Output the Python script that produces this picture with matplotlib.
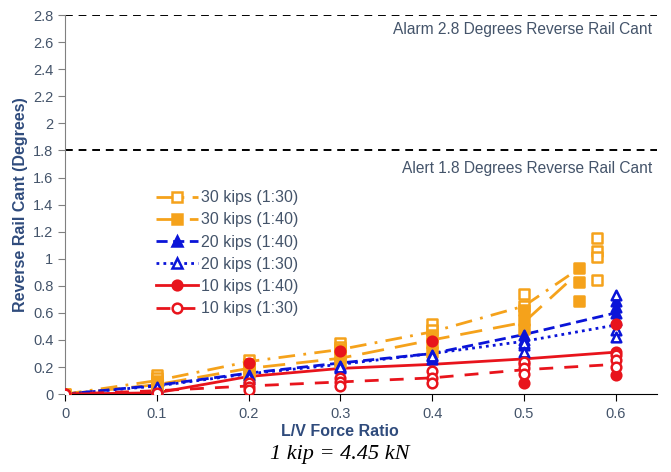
import matplotlib.pyplot as plt

# trend lines (one per series)
x_line = [0, 0.1, 0.2, 0.3, 0.4, 0.5, 0.6]
x_line_30_130 = [0, 0.1, 0.2, 0.3, 0.4, 0.5, 0.565]
x_line_30_140 = [0, 0.1, 0.2, 0.3, 0.4, 0.5, 0.555]
y_line_30_130 = [0, 0.10, 0.24, 0.33, 0.46, 0.65, 0.95]
y_line_30_140 = [0, 0.07, 0.19, 0.265, 0.40, 0.53, 0.87]
y_line_20_140 = [0, 0.065, 0.155, 0.23, 0.30, 0.44, 0.60]
y_line_20_130 = [0, 0.06, 0.15, 0.22, 0.30, 0.39, 0.51]
y_line_10_140 = [0, 0.01, 0.13, 0.19, 0.22, 0.26, 0.31]
y_line_10_130 = [0, 0.025, 0.06, 0.09, 0.12, 0.18, 0.22]

# measured points
x_30_130 = [0, 0.1, 0.1, 0.2, 0.2, 0.3, 0.3, 0.4, 0.4, 0.5, 0.5, 0.58, 0.58, 0.58, 0.58]
y_30_130 = [0, 0.14, 0.12, 0.25, 0.22, 0.38, 0.35, 0.52, 0.47, 0.74, 0.65, 1.15, 1.06, 1.01, 0.84]
x_30_140 = [0, 0.1, 0.1, 0.1, 0.2, 0.2, 0.2, 0.3, 0.3, 0.3, 0.4, 0.4, 0.4, 0.5, 0.5, 0.5, 0.56, 0.56, 0.56]
y_30_140 = [0, 0.10, 0.07, 0.05, 0.22, 0.18, 0.14, 0.33, 0.28, 0.24, 0.44, 0.38, 0.31, 0.62, 0.55, 0.48, 0.93, 0.83, 0.69]
x_20_140 = [0, 0.1, 0.1, 0.2, 0.2, 0.3, 0.3, 0.4, 0.4, 0.5, 0.5, 0.5, 0.6, 0.6, 0.6, 0.6]
y_20_140 = [0, 0.04, 0.03, 0.14, 0.11, 0.21, 0.19, 0.29, 0.26, 0.44, 0.40, 0.36, 0.69, 0.64, 0.60, 0.55]
x_20_130 = [0, 0.1, 0.2, 0.3, 0.4, 0.5, 0.5, 0.6, 0.6, 0.6]
y_20_130 = [0, 0.05, 0.13, 0.20, 0.28, 0.38, 0.31, 0.73, 0.47, 0.42]
x_10_140 = [0, 0.1, 0.2, 0.3, 0.4, 0.5, 0.5, 0.6, 0.6, 0.6]
y_10_140 = [0, 0.0, 0.23, 0.32, 0.39, 0.22, 0.08, 0.52, 0.31, 0.14]
x_10_130 = [0, 0.1, 0.2, 0.2, 0.2, 0.3, 0.3, 0.3, 0.4, 0.4, 0.4, 0.5, 0.5, 0.5, 0.6, 0.6, 0.6]
y_10_130 = [0, 0.01, 0.08, 0.05, 0.03, 0.12, 0.09, 0.06, 0.17, 0.12, 0.08, 0.24, 0.19, 0.15, 0.29, 0.25, 0.20]

x_ticks = [0, 0.1, 0.2, 0.3, 0.4, 0.5, 0.6]
y_ticks = [0, 0.2, 0.4, 0.6, 0.8, 1, 1.2, 1.4, 1.6, 1.8, 2, 2.2, 2.4, 2.6, 2.8]
alarm_level = 2.8
alert_level = 1.8

orange = '#F5A21B'
blue = '#0A14D8'
red = '#E8141C'
txt = '#44546A'
lab = '#2F4B7C'

plt.rcParams['font.family'] = ['Liberation Sans', 'DejaVu Sans']

fig = plt.figure(figsize=(6.71, 4.72), dpi=100)
ax = fig.add_axes([0.097, 0.165, 0.882, 0.803])

series = [
    ('30 kips (1:30)', x_line_30_130, y_line_30_130, x_30_130, y_30_130, orange, (0, (6, 3, 1, 3)), 's', 'white'),
    ('30 kips (1:40)', x_line_30_140, y_line_30_140, x_30_140, y_30_140, orange, (0, (8, 4)), 's', orange),
    ('20 kips (1:40)', x_line, y_line_20_140, x_20_140, y_20_140, blue, (0, (4, 2)), '^', blue),
    ('20 kips (1:30)', x_line, y_line_20_130, x_20_130, y_20_130, blue, (0, (1, 1.5)), '^', 'white'),
    ('10 kips (1:40)', x_line, y_line_10_140, x_10_140, y_10_140, red, '-', 'o', red),
    ('10 kips (1:30)', x_line, y_line_10_130, x_10_130, y_10_130, red, (0, (5, 4)), 'o', 'white'),
]

handles = []
for name, lx, ly, px, py, c, ls, mk, fc in series:
    ax.plot(lx, ly, color=c, linestyle=ls, linewidth=2, zorder=2)
    ax.scatter(px, py, marker=mk, s=48, facecolors=fc, edgecolors=c, linewidths=1.8, zorder=3)
    h, = ax.plot([], [], color=c, linestyle=ls, linewidth=2, marker=mk,
                 markersize=7, markerfacecolor=fc, markeredgecolor=c, markeredgewidth=1.8)
    handles.append(h)

ax.axhline(alarm_level, color='black', linestyle=(0, (4, 3)), linewidth=1.4, zorder=1)
ax.axhline(alert_level, color='black', linestyle=(0, (4, 3)), linewidth=1.4, zorder=1)
ax.text(0.64, 2.69, 'Alarm 2.8 Degrees Reverse Rail Cant', ha='right', va='center',
        fontsize=11.2, color=txt)
ax.text(0.64, 1.67, 'Alert 1.8 Degrees Reverse Rail Cant', ha='right', va='center',
        fontsize=11.2, color=txt)

ax.set_xlim(0, 0.645)
ax.set_ylim(0, 2.8)
ax.set_xticks(x_ticks)
ax.set_xticklabels([f'{t:g}' for t in x_ticks])
ax.set_yticks(y_ticks)
ax.set_yticklabels([f'{t:g}' for t in y_ticks])
ax.tick_params(colors=txt, labelsize=10.5, direction='out', length=5)
ax.tick_params(axis='y', color='#808080')
ax.tick_params(axis='x', color='black', pad=4)

for s in ['top', 'right']:
    ax.spines[s].set_visible(False)
ax.spines['left'].set_color('#808080')
ax.spines['bottom'].set_color('black')

ax.set_ylabel('Reverse Rail Cant (Degrees)', fontsize=11.5, fontweight='bold', color=lab)
ax.set_xlabel('L/V Force Ratio', fontsize=11.5, fontweight='bold', color=lab)
ax.xaxis.set_label_coords(0.3 / 0.645, -0.078)
ax.yaxis.set_label_coords(-0.062, 0.5)

leg = ax.legend(handles, [s[0] for s in series], loc='upper left', bbox_to_anchor=(0.13, 0.576),
                frameon=False, fontsize=11.5, handlelength=2.6, handletextpad=0.2,
                labelspacing=0.45, labelcolor=txt)

fig.text(0.507, 0.038, '1 kip = 4.45 kN', ha='center', va='center', fontsize=16,
         style='italic', family=['Liberation Serif', 'DejaVu Serif'])

fig.savefig('out.png', dpi=100)
